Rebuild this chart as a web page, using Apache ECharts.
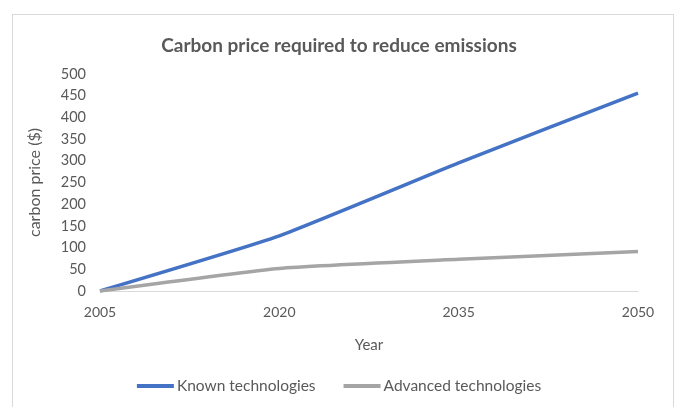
<!DOCTYPE html>
<html><head><meta charset="utf-8">
<script src="https://cdn.jsdelivr.net/npm/echarts@6/dist/echarts.min.js"></script>
<style>html,body{margin:0;padding:0;background:#fff}#c{width:678px;height:407px}
#frame{position:absolute;left:12px;top:14px;width:662px;height:400px;border:1px solid #d9d9d9;box-sizing:border-box;pointer-events:none}</style>
</head><body><div id="c"></div><div id="frame"></div>
<script>
const years = ['2005', '2020', '2035', '2050'];
const knownTech = [0, 127, 295, 456];
const advancedTech = [0, 52, 73, 91];
const yTicks = [0, 50, 100, 150, 200, 250, 300, 350, 400, 450, 500];

const chart = echarts.init(document.getElementById('c'), null, {renderer: 'canvas'});
const txt = '#595959';
const font = 'Lato, "Open Sans", sans-serif';
chart.setOption({
  animation: false,
  backgroundColor: '#fff',
  title: {
    text: 'Carbon price required to reduce emissions',
    left: 'center', top: 31,
    textStyle: {fontFamily: font, fontSize: 19, fontWeight: 'bold', color: txt}
  },
  legend: {
    bottom: 8, left: 'center', itemWidth: 37, itemHeight: 4, itemGap: 28,
    icon: 'rect',
    textStyle: {fontFamily: font, fontSize: 15.5, color: txt, padding: [0, 0, 0, -2]},
    data: ['Known technologies', 'Advanced technologies']
  },
  grid: {left: 100, right: 40, top: 74, bottom: 116},
  xAxis: {
    type: 'category', data: years, boundaryGap: false,
    name: 'Year', nameLocation: 'middle', nameGap: 47,
    nameTextStyle: {fontFamily: font, fontSize: 15, color: txt},
    axisLine: {lineStyle: {color: '#d9d9d9', width: 1}},
    axisTick: {show: false},
    axisLabel: {fontFamily: font, fontSize: 14, color: txt, margin: 14}
  },
  yAxis: {
    type: 'value', min: yTicks[0], max: yTicks[yTicks.length - 1], interval: 50,
    name: 'carbon price ($)', nameLocation: 'middle', nameGap: 57, nameRotate: 90,
    nameTextStyle: {fontFamily: font, fontSize: 16, color: txt, letterSpacing: 1},
    axisLine: {show: false}, axisTick: {show: false},
    splitLine: {show: false},
    axisLabel: {fontFamily: font, fontSize: 14.5, color: txt, margin: 14}
  },
  series: [
    {name: 'Known technologies', type: 'line', data: knownTech, smooth: 0.15,
     symbol: 'none', lineStyle: {color: '#4472c4', width: 3.5}, itemStyle: {color: '#4472c4'}},
    {name: 'Advanced technologies', type: 'line', data: advancedTech, smooth: 0.15,
     symbol: 'none', lineStyle: {color: '#a5a5a5', width: 3.5}, itemStyle: {color: '#a5a5a5'}}
  ]
});
</script></body></html>
